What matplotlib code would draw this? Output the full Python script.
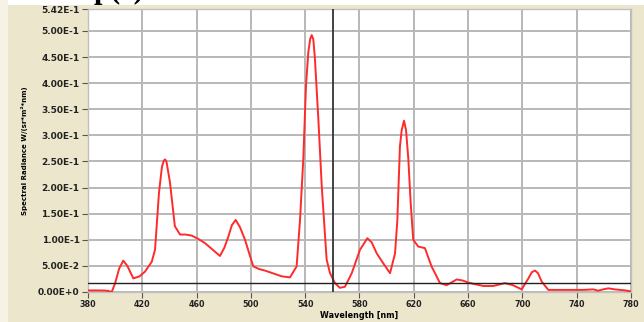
import numpy as np
import matplotlib.pyplot as plt
from matplotlib.patches import Rectangle

# spectrum
wavelength = [378, 385, 392, 395, 397.5, 400, 403, 406, 409, 413.4, 418, 422, 427, 429.4,
              432.3, 434.5, 435.8, 436.7, 437.8, 440.4, 444, 447.8, 452, 456.4, 461, 466, 471,
              477.2, 480.5, 483.4, 486, 488.8, 492, 495.7, 499, 501.8, 506, 510.4, 516,
              522.7, 528.8, 533.7, 536.2, 538.6, 540.6, 542.3, 543.7, 544.8, 546, 547.2,
              549.7, 552.2, 555.8, 558.3, 562, 565.5, 569.3, 574.3, 580.4, 585.8, 589, 592.7,
              597.5, 602.5, 606.2, 607.9, 609.8, 611.1, 612.8, 614.3, 616, 617.7, 619.6,
              623.3, 628.2, 633.1, 639.3, 644.2, 651.6, 656, 660.2, 665, 671.2, 678.6, 687.2,
              693, 699.5, 704.4, 707, 709.3, 711.5, 714.2, 719.1, 728, 737.5, 745, 752.2,
              755.7, 759.5, 763.3, 768, 771.9, 776, 780]
radiance = [0.003, 0.003, 0.0028, 0.002, 0.0, 0.017, 0.045, 0.060, 0.050, 0.026, 0.030, 0.039,
            0.058, 0.081, 0.19, 0.24, 0.251, 0.254, 0.250, 0.21, 0.126, 0.110, 0.110, 0.108,
            0.102, 0.094, 0.083, 0.069, 0.085, 0.106, 0.128, 0.138, 0.124, 0.10, 0.072, 0.049,
            0.044, 0.041, 0.036, 0.030, 0.028, 0.049, 0.138, 0.254, 0.395, 0.459, 0.485, 0.492,
            0.484, 0.446, 0.331, 0.203, 0.062, 0.036, 0.017, 0.008, 0.010, 0.036, 0.081,
            0.103, 0.095, 0.074, 0.055, 0.036, 0.074, 0.138, 0.279, 0.31, 0.328, 0.31, 0.254,
            0.171, 0.10, 0.087, 0.084, 0.049, 0.017, 0.013, 0.024, 0.022, 0.018, 0.015,
            0.0115, 0.0115, 0.017, 0.013, 0.005, 0.026, 0.038, 0.041, 0.036, 0.020, 0.004,
            0.004, 0.004, 0.004, 0.005, 0.0025, 0.005, 0.007, 0.005, 0.004, 0.003, 0.001]

x_ticks = [380, 420, 460, 500, 540, 580, 620, 660, 700, 740, 780]
y_ticks = [0.0, 0.05, 0.10, 0.15, 0.20, 0.25, 0.30, 0.35, 0.40, 0.45, 0.50, 0.542]
y_tick_labels = ['0.00E+0', '5.00E-2', '1.00E-1', '1.50E-1', '2.00E-1', '2.50E-1',
                 '3.00E-1', '3.50E-1', '4.00E-1', '4.50E-1', '5.00E-1', '5.42E-1']
cursor_x = 560.5
cursor_y = 0.0173

beige = '#ECE7CC'
fig = plt.figure(figsize=(6.44, 3.22), dpi=100, facecolor=beige)
# white margins of the scanned page
fig.patches.append(Rectangle((0, 0.984), 1, 0.016, transform=fig.transFigure,
                             facecolor='white', edgecolor='none', zorder=0))
fig.patches.append(Rectangle((0, 0), 0.012, 1, transform=fig.transFigure,
                             facecolor='#F6F3E6', edgecolor='none', zorder=0))
fig.text(0.145, 0.984, 'p(c)', fontsize=22, family='Liberation Serif', fontweight='bold',
         va='bottom', ha='left', color='black', zorder=1)

ax = fig.add_axes([0.1366, 0.0932, 0.8432, 0.8788])
ax.set_facecolor('white')
ax.plot(wavelength, radiance, color='#FF2A2A', linewidth=1.4, zorder=3)
ax.axvline(cursor_x, color='#333333', linewidth=1.3, zorder=4)
ax.axhline(cursor_y, color='#222222', linewidth=1.0, zorder=4)

ax.set_xlim(380, 780)
ax.set_ylim(0, 0.542)
ax.set_xticks(x_ticks)
ax.set_xticklabels([str(t) for t in x_ticks])
ax.set_yticks(y_ticks)
ax.set_yticklabels(y_tick_labels)
ax.tick_params(axis='both', length=4, width=0.8, color='#555555', pad=2)
ax.tick_params(axis='x', labelsize=5.8)
ax.tick_params(axis='y', labelsize=6.5)
for lab in ax.get_xticklabels() + ax.get_yticklabels():
    lab.set_fontweight('bold')
    lab.set_color('#222222')
ax.grid(True, color='#B8B8B8', linewidth=1.4)
ax.set_axisbelow(True)
for side in ['top', 'right', 'bottom', 'left']:
    ax.spines[side].set_color('#C0C0C0')
    ax.spines[side].set_linewidth(1.0)

ax.set_xlabel('Wavelength [nm]', fontsize=5.8, fontweight='bold', labelpad=1)
ax.set_ylabel('Spectral Radiance W/(sr*m²*nm)', fontsize=5, fontweight='bold', labelpad=7)

fig.savefig('out.png', dpi=100, facecolor=fig.get_facecolor())
